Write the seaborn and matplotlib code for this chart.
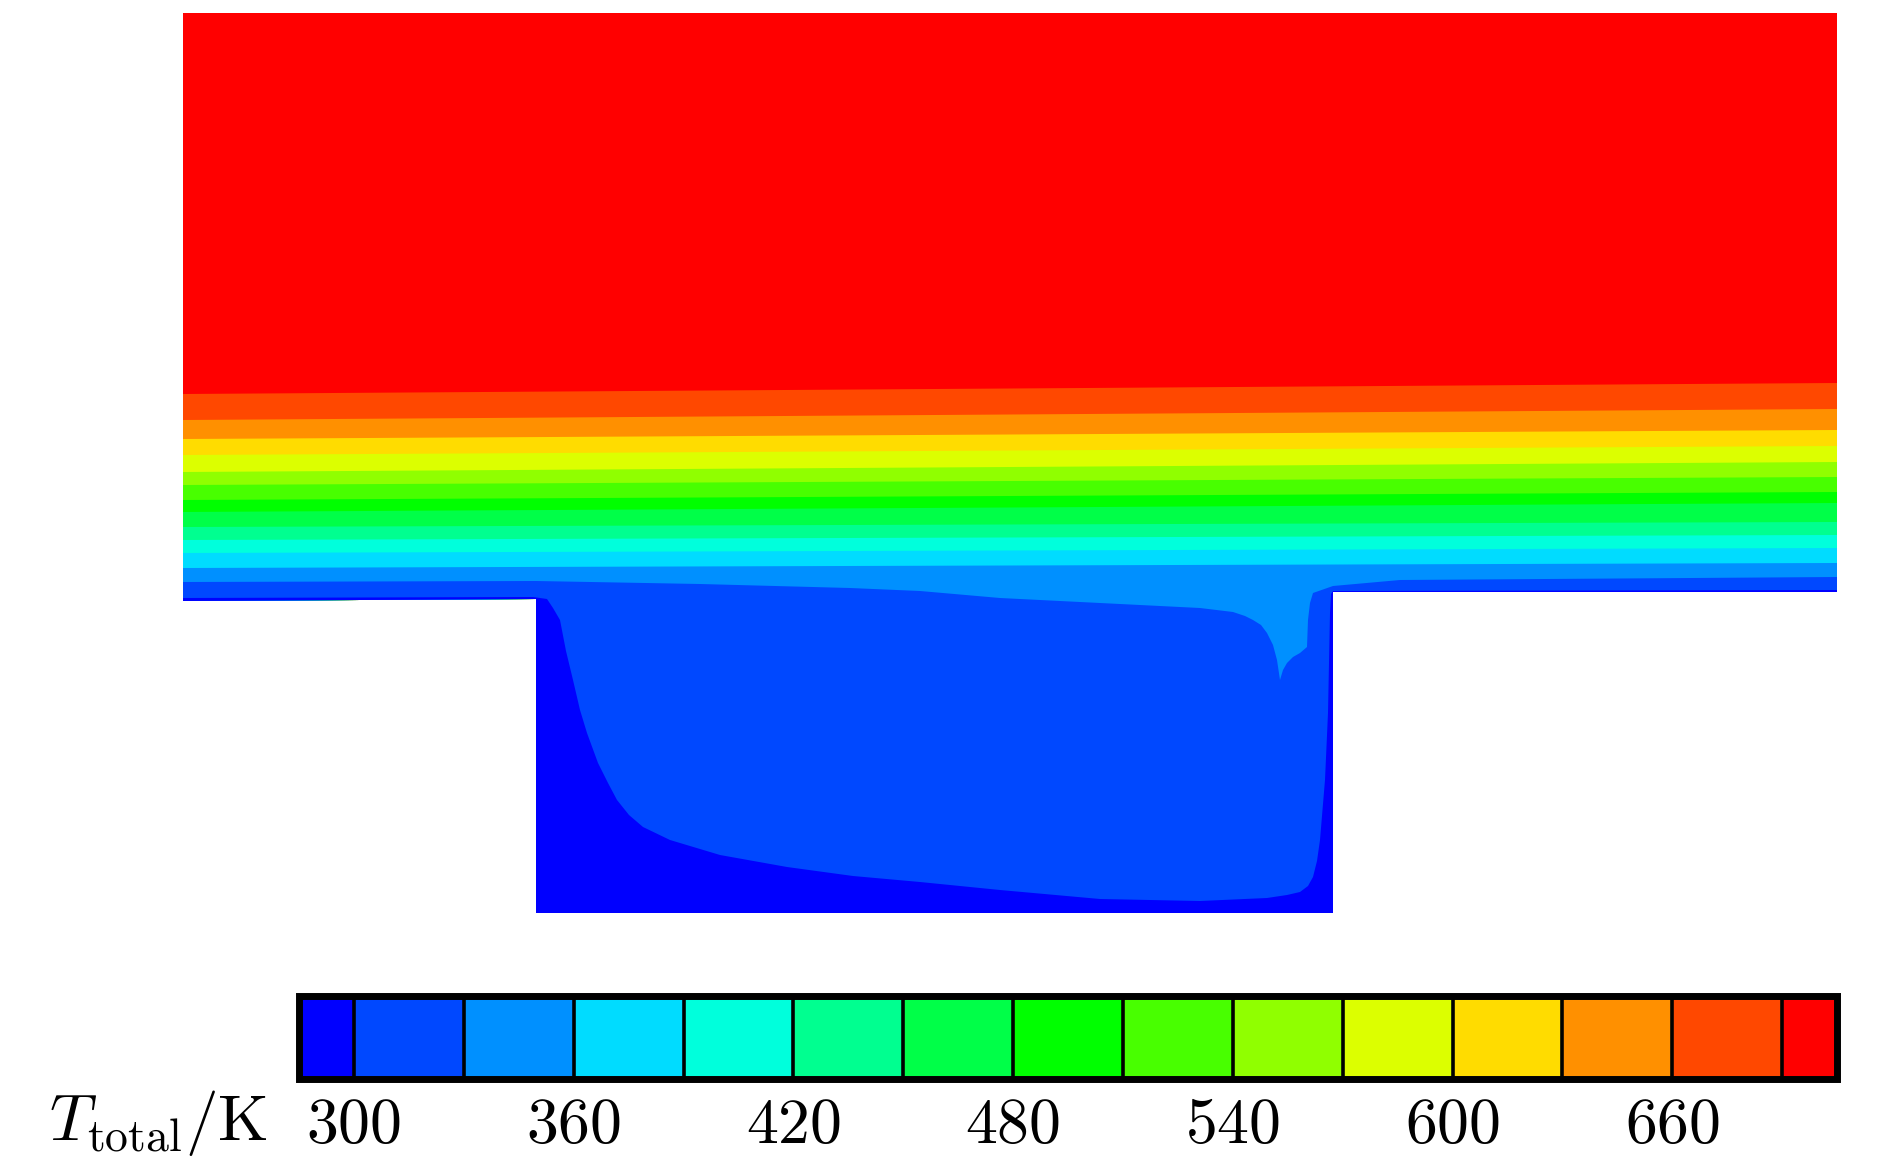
"""Total-temperature contour over an open cavity, redrawn from a CFD snapshot."""

import matplotlib
import seaborn as sns

matplotlib.use("Agg")
import matplotlib.pyplot as plt  # noqa: E402
from matplotlib.cm import ScalarMappable  # noqa: E402
from matplotlib.colors import BoundaryNorm, ListedColormap  # noqa: E402

# contour levels (K) and the colour of each band between them
level_edges = [285, 300, 330, 360, 390, 420, 450, 480, 510, 540, 570, 600, 630, 660, 690, 705]
band_colors = [
    "#0000ff", "#0048ff", "#0090ff", "#00dcff", "#00ffdc",
    "#00ff90", "#00ff48", "#00ff00", "#48ff00", "#90ff00",
    "#dcff00", "#ffdc00", "#ff9000", "#ff4800", "#ff0000",
]
tick_values = [300, 360, 420, 480, 540, 600, 660]

# geometry: x downstream from the inlet, y up from the cavity floor
domain_length = 1654
domain_top = 900
wall_x = [0, 353, 353, 1150, 1150, 1654]
wall_y = [312, 314, 0, 0, 321, 321]

# isotherms that run straight across the channel (height at inlet / outlet)
iso_temps = [690, 660, 630, 600, 570, 540, 510, 480, 450, 420, 390, 360]
iso_inlet_y = [519, 493, 474, 458, 441, 428, 413, 401, 386, 373, 360, 345]
iso_outlet_y = [530, 504, 483, 467, 451, 436, 421, 410, 391, 378, 365, 350]

# 330 K isotherm, pulled down into the cavity mouth
iso330_x = [0, 353, 517, 667, 737, 817, 917, 1017, 1050, 1062, 1070, 1078, 1084,
            1090, 1094, 1097, 1100, 1104, 1110, 1117, 1124, 1125, 1127, 1130,
            1150, 1217, 1654]
iso330_y = [331, 332, 329, 325, 322, 315, 310, 305, 301, 297, 293, 288, 280,
            268, 253, 233, 243, 250, 256, 260, 266, 293, 310, 320,
            327, 333, 336]

# 300 K isotherm, hugging the cavity walls and floor
iso300_x = [0, 350, 364, 370, 377, 383, 390, 397, 404, 415, 425, 434, 446, 460,
            487, 537, 604, 670, 737, 817, 917, 1017, 1084, 1104, 1117, 1125,
            1130, 1134, 1137, 1142, 1145, 1147, 1148, 1150, 1654]
iso300_y = [315, 316, 314, 305, 293, 262, 233, 203, 180, 150, 130, 113, 98, 86,
            73, 58, 46, 37, 31, 23, 14, 12, 15, 18, 21, 27,
            36, 52, 73, 133, 200, 300, 319, 322, 323]


def band_color(temp):
    """Colour of the band just below the isotherm at temp."""
    return band_colors[level_edges.index(temp) - 1]


def fill_below(ax, xs, ys, color):
    """Fill from an isotherm down to the solid wall."""
    px = list(xs) + wall_x[::-1]
    py = list(ys) + wall_y[::-1]
    ax.fill(px, py, color=color, edgecolor="none", linewidth=0)


sns.set_theme(style="white")
plt.rcParams["mathtext.fontset"] = "cm"

fig = plt.figure(figsize=(18.9, 11.57), dpi=100)
ax = fig.add_axes([183 / 1890, 244 / 1157, 1654 / 1890, 900 / 1157])

# hot free stream fills the whole channel first
fill_below(ax, [0, domain_length], [domain_top, domain_top], band_colors[-1])
for temp, y_in, y_out in zip(iso_temps, iso_inlet_y, iso_outlet_y):
    fill_below(ax, [0, domain_length], [y_in, y_out], band_color(temp))
fill_below(ax, iso330_x, iso330_y, band_color(330))
fill_below(ax, iso300_x, iso300_y, band_color(300))

ax.set_xlim(0, domain_length)
ax.set_ylim(0, domain_top)
ax.axis("off")

# colour bar along the bottom
cmap = ListedColormap(band_colors)
norm = BoundaryNorm(level_edges, cmap.N)
cax = fig.add_axes([299 / 1890, 78 / 1157, 1538 / 1890, 83 / 1157])
cbar = fig.colorbar(
    ScalarMappable(norm=norm, cmap=cmap),
    cax=cax,
    orientation="horizontal",
    drawedges=True,
    spacing="proportional",
    ticks=tick_values,
)
cbar.minorticks_off()
cbar.outline.set_linewidth(5)
cbar.outline.set_edgecolor("black")
cbar.dividers.set_color("black")
cbar.dividers.set_linewidth(2.6)
cbar.set_ticklabels([f"${v}$" for v in tick_values])
cax.tick_params(axis="x", which="both", length=0, pad=11, labelsize=46, colors="black")

fig.text(
    268 / 1890,
    17 / 1157,
    r"$T_{\mathrm{total}}/\mathrm{K}$",
    ha="right",
    va="baseline",
    fontsize=47,
    color="black",
)

fig.savefig("out.png", dpi=100, facecolor="white")
plt.close(fig)
